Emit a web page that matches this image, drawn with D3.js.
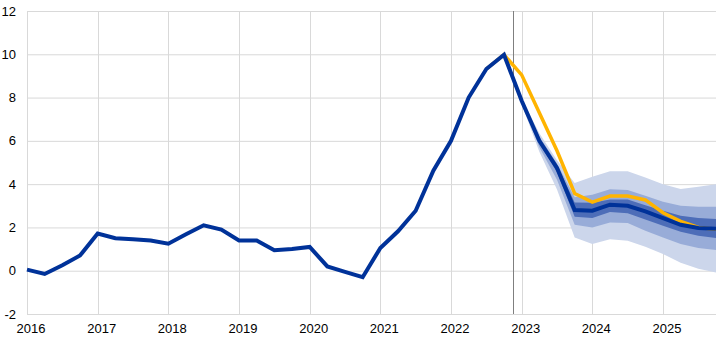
<!DOCTYPE html>
<html>
<head>
<meta charset="utf-8">
<script src="https://cdn.jsdelivr.net/npm/d3@7"></script>
<style>
  body { margin: 0; background: #fff; }
  text { font-family: "Liberation Sans", Arial, sans-serif; font-size: 13px; fill: #000; }
</style>
</head>
<body>
<div id="chart"></div>
<script>
// quarterly observations, first quarter of 2016 to last of 2025
const quarters = d3.range(2016, 2025.76, 0.25);

// main line (history + projection)
const blue = [
  0.05, -0.15, 0.25, 0.7,
  1.72, 1.5, 1.45, 1.4,
  1.25, 1.68, 2.1, 1.9,
  1.4, 1.4, 0.95, 1.0,
  1.1, 0.2, -0.05, -0.3,
  1.05, 1.82, 2.77, 4.62,
  6.0, 8.0, 9.32, 9.98,
  7.85, 6.0, 4.75, 2.8,
  2.77, 3.05, 3.0, 2.74,
  2.43, 2.12, 1.97, 1.94
];

// previous projection, starts at 2022 Q3
const yellowStart = 2022.5;
const yellow = [
  9.32, 9.98,
  9.05, 7.3, 5.54, 3.57,
  3.17, 3.45, 3.45, 3.27,
  2.68, 2.28, 2.0, 1.91
];

// fan bands, from 2023 Q1
const bandStart = 2023;
const outerLo = [7.7, 5.5, 3.75, 1.54, 1.23, 1.45, 1.39, 1.11, 0.77, 0.37, 0.09, -0.08];
const outerHi = [7.95, 6.35, 5.1, 4.05, 4.34, 4.59, 4.59, 4.31, 4.0, 3.77, 3.88, 4.0];
const midLo = [7.75, 5.7, 4.2, 2.12, 2.0, 2.23, 2.2, 1.85, 1.54, 1.23, 1.05, 0.96];
const midHi = [7.92, 6.2, 4.95, 3.39, 3.51, 3.76, 3.73, 3.46, 3.19, 3.0, 2.96, 2.96];
const inLo = [7.8, 5.9, 4.55, 2.49, 2.43, 2.71, 2.66, 2.37, 2.08, 1.8, 1.62, 1.51];
const inHi = [7.9, 6.1, 4.9, 3.15, 3.14, 3.29, 3.29, 3.03, 2.77, 2.54, 2.43, 2.39];

const yTicks = [-2, 0, 2, 4, 6, 8, 10, 12];
const xTicks = [2016, 2017, 2018, 2019, 2020, 2021, 2022, 2023, 2024, 2025];
const cutoff = 2022.88;

const width = 716, height = 342;
const margin = { top: 11, right: 0, bottom: 28, left: 27 };

const x = d3.scaleLinear()
  .domain([2016, 2025.75])
  .range([margin.left, width - margin.right]);
const y = d3.scaleLinear()
  .domain([-2, 12])
  .range([height - margin.bottom, margin.top]);

const svg = d3.select("#chart")
  .append("svg")
  .attr("width", width)
  .attr("height", height);

// grid
const grid = svg.append("g").attr("stroke", "#d9d9d9").attr("stroke-width", 1);
grid.selectAll("line.h")
  .data(yTicks)
  .enter()
  .append("line")
  .attr("x1", margin.left)
  .attr("x2", width)
  .attr("y1", d => y(d) + 0.5)
  .attr("y2", d => y(d) + 0.5);
grid.selectAll("line.v")
  .data(xTicks)
  .enter()
  .append("line")
  .attr("x1", d => Math.round(x(d)) + 0.5)
  .attr("x2", d => Math.round(x(d)) + 0.5)
  .attr("y1", margin.top)
  .attr("y2", y(-2));

// tick labels
svg.selectAll("text.ylab")
  .data(yTicks)
  .enter()
  .append("text")
  .attr("text-anchor", "end")
  .attr("x", 16)
  .attr("y", d => y(d) + 4.5)
  .text(d => d);
svg.selectAll("text.xlab")
  .data(xTicks)
  .enter()
  .append("text")
  .attr("text-anchor", "middle")
  .attr("x", d => x(d) + 4)
  .attr("y", 333)
  .text(d => d);

// bands
const band = (lo, hi, color) => {
  const rows = lo.map((v, i) => ({ t: bandStart + i * 0.25, lo: v, hi: hi[i] }));
  rows.unshift({ t: 2022.75, lo: 9.98, hi: 9.98 });
  svg.append("path")
    .datum(rows)
    .attr("fill", color)
    .attr("d", d3.area()
      .x(d => x(d.t))
      .y0(d => y(d.lo))
      .y1(d => y(d.hi)));
};
band(outerLo, outerHi, "#ccd6eb");
band(midLo, midHi, "#98acd8");
band(inLo, inHi, "#4d6db8");

// cutoff line
svg.append("line")
  .attr("x1", Math.round(x(cutoff)) + 0.5)
  .attr("x2", Math.round(x(cutoff)) + 0.5)
  .attr("y1", margin.top)
  .attr("y2", y(-2))
  .attr("stroke", "#7f7f7f")
  .attr("stroke-width", 1);

const line = d3.line()
  .x(d => x(d[0]))
  .y(d => y(d[1]));

svg.append("path")
  .datum(yellow.map((v, i) => [yellowStart + i * 0.25, v]))
  .attr("fill", "none")
  .attr("stroke", "#ffb400")
  .attr("stroke-width", 3.5)
  .attr("d", line);

svg.append("path")
  .datum(blue.map((v, i) => [quarters[i], v]))
  .attr("fill", "none")
  .attr("stroke", "#003299")
  .attr("stroke-width", 4)
  .attr("d", line);
</script>
</body>
</html>
